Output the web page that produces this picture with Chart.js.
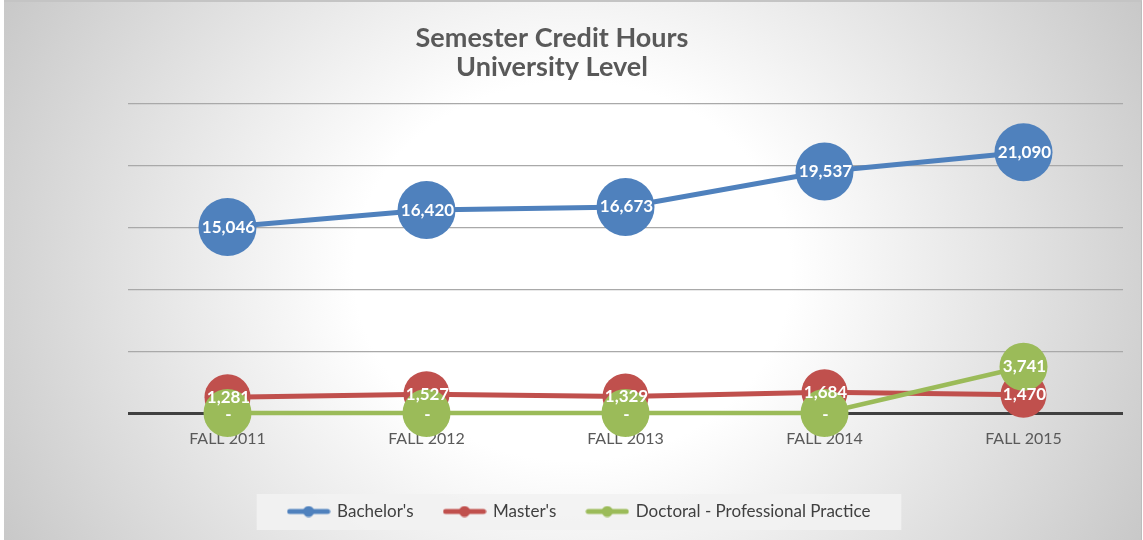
<!DOCTYPE html>
<html>
<head>
<meta charset="utf-8">
<script src="https://cdn.jsdelivr.net/npm/chart.js@4/dist/chart.umd.min.js"></script>
<style>
  body { margin: 0; background: #fff; }
  #bg {
    position: absolute; left: 4px; top: 0; width: 1138px; height: 540px;
    border-top: 2px solid #c4c4c4; border-right: 1px solid #bcbcbc; box-sizing: border-box;
    background: radial-gradient(ellipse 60% 110% at 50% 50%, #ffffff 32%, #c4c4c4 100%);
  }
  #allChart { position: absolute; left: 0; top: 0; }
</style>
</head>
<body>
<div id="bg"></div>
<canvas id="allChart" width="1143" height="540"></canvas>
<script>
const categories = ['FALL 2011', 'FALL 2012', 'FALL 2013', 'FALL 2014', 'FALL 2015'];
const bachelors = [15046, 16420, 16673, 19537, 21090];
const masters = [1281, 1527, 1329, 1684, 1470];
const doctoral = [0, 0, 0, 0, 3741];
const titleLines = ['Semester Credit Hours', 'University Level'];
const yTicks = [0, 5000, 10000, 15000, 20000, 25000];

const FONT = 'Lato, "Open Sans", sans-serif';

// little line-with-dot marker for the legend
function legendMarker(color) {
  const c = document.createElement('canvas');
  c.width = 44; c.height = 12;
  const g = c.getContext('2d');
  g.strokeStyle = color;
  g.lineWidth = 5;
  g.lineCap = 'round';
  g.beginPath(); g.moveTo(3, 6); g.lineTo(41, 6); g.stroke();
  g.fillStyle = color;
  g.beginPath(); g.arc(22, 6, 5.5, 0, Math.PI * 2); g.fill();
  return c;
}

const titlePlugin = {
  id: 'twoLineTitle',
  afterDraw(chart) {
    const ctx = chart.ctx;
    ctx.save();
    ctx.fillStyle = '#595959';
    ctx.font = 'bold 27px ' + FONT;
    ctx.textAlign = 'center';
    ctx.textBaseline = 'alphabetic';
    ctx.fillText(titleLines[0], 552, 47);
    ctx.fillText(titleLines[1], 552, 76);
    ctx.restore();
  }
};

const legendBoxPlugin = {
  id: 'legendBox',
  beforeDraw(chart) {
    const lg = chart.legend;
    if (!lg || !lg.legendHitBoxes.length) return;
    const boxes = lg.legendHitBoxes;
    const left = boxes[0].left - 32;
    const right = boxes[boxes.length - 1].left + boxes[boxes.length - 1].width + 31;
    const ctx = chart.ctx;
    ctx.save();
    ctx.fillStyle = 'rgba(242,242,242,0.9)';
    ctx.fillRect(left, 494, right - left, 36);
    ctx.restore();
  }
};

const pointLabelPlugin = {
  id: 'pointLabels',
  afterDatasetsDraw(chart) {
    const ctx = chart.ctx;
    ctx.save();
    ctx.fillStyle = '#ffffff';
    ctx.font = 'bold 17px ' + FONT;
    ctx.textAlign = 'center';
    ctx.textBaseline = 'middle';
    chart.data.datasets.forEach((ds, i) => {
      chart.getDatasetMeta(i).data.forEach((pt, j) => {
        const v = ds.data[j];
        const txt = v === 0 ? '-' : v.toLocaleString('en-US');
        ctx.fillText(txt, pt.x + 1, pt.y + (v === 0 ? 2 : 0));
      });
    });
    ctx.restore();
  }
};

function series(label, data, color, radius, width, order) {
  return {
    label: label,
    data: data,
    borderColor: color,
    backgroundColor: color,
    pointBackgroundColor: color,
    pointBorderWidth: 0,
    pointRadius: radius,
    pointHoverRadius: radius,
    borderWidth: width,
    tension: 0,
    order: order,
    clip: false,
    pointStyle: 'circle'
  };
}

window.addEventListener('load', () => {
  const ctx = document.getElementById('allChart');
  window.allChart = new Chart(ctx, {
    type: 'line',
    data: {
      labels: categories,
      datasets: [
        series("Bachelor's", bachelors, '#4f81bd', 29, 5, 2),
        series("Master's", masters, '#c0504d', 23, 5, 1),
        series('Doctoral - Professional Practice', doctoral, '#9bbb59', 24, 4.5, 0)
      ]
    },
    options: {
      responsive: false,
      animation: false,
      events: [],
      layout: { autoPadding: false, padding: { left: 36, right: 20, top: 104, bottom: 10 } },
      scales: {
        x: {
          offset: true,
          grid: { display: false, drawTicks: false },
          border: { display: false },
          ticks: { color: '#595959', font: { family: FONT, size: 16 }, padding: 16 },
          afterFit: (s) => { s.height = 59; s.paddingLeft = 0; s.paddingRight = 0; }
        },
        y: {
          min: 0,
          max: 25000,
          afterBuildTicks: (s) => { s.ticks = yTicks.map(v => ({ value: v })); },
          ticks: { display: false },
          border: { display: false },
          grid: {
            drawTicks: false,
            color: (c) => c.tick && c.tick.value === 0 ? '#404040' : '#a9a9a9',
            lineWidth: (c) => c.tick && c.tick.value === 0 ? 3 : 1.2
          },
          afterFit: (s) => { s.width = 92; }
        }
      },
      plugins: {
        title: { display: false },
        tooltip: { enabled: false },
        legend: {
          position: 'bottom',
          labels: {
            usePointStyle: true,
            pointStyleWidth: 40,
            padding: 31,
            color: '#404040',
            font: { family: FONT, size: 17 },
            generateLabels: (chart) => chart.data.datasets.map((ds, i) => ({
              text: ds.label,
              fillStyle: ds.borderColor,
              strokeStyle: ds.borderColor,
              fontColor: '#404040',
              lineWidth: 0,
              pointStyle: legendMarker(ds.borderColor),
              datasetIndex: i,
              hidden: false
            }))
          }
        }
      }
    },
    plugins: [legendBoxPlugin, pointLabelPlugin, titlePlugin]
  });
});
</script>
</body>
</html>
